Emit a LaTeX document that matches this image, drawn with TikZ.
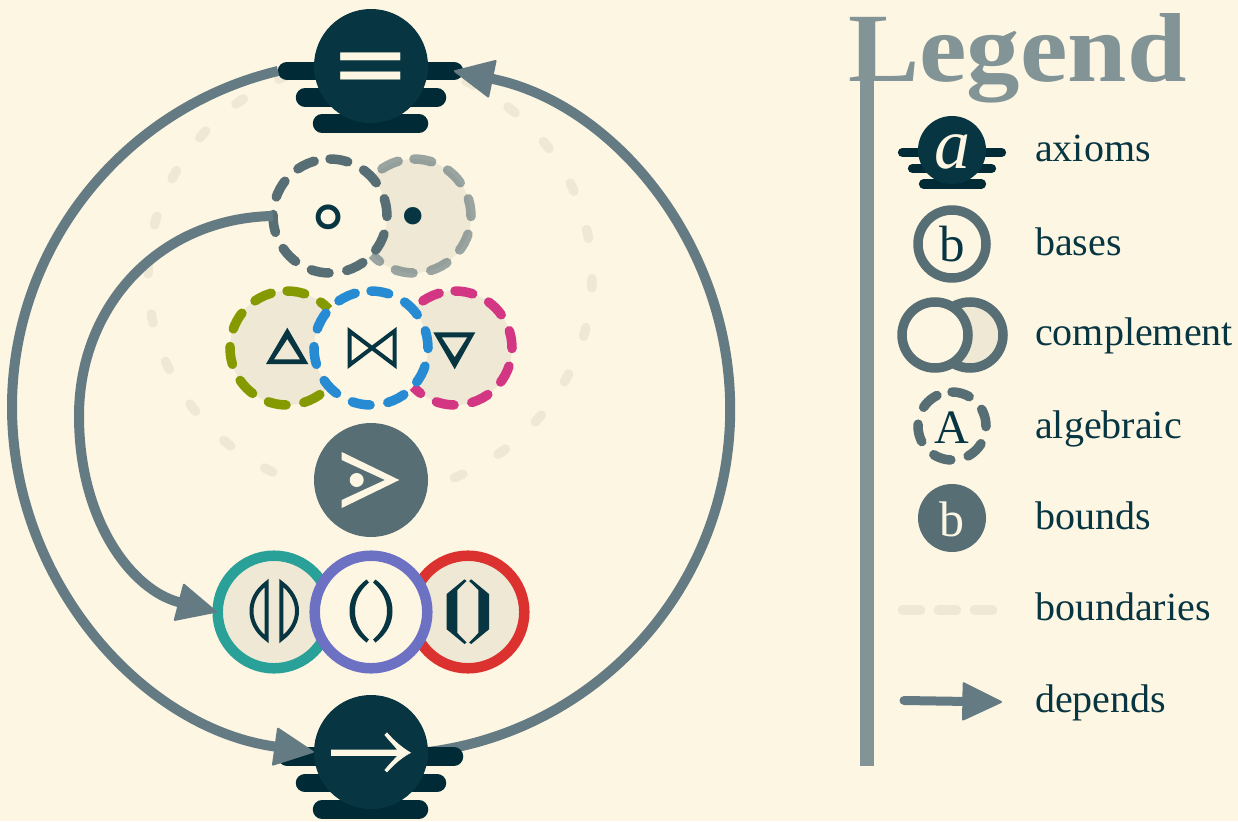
\documentclass[tikz,border=0pt]{standalone}
\usepackage{fontspec}
\usepackage{xcolor}
\usepackage{tikz}
\usetikzlibrary{arrows.meta}
\setmainfont{Liberation Serif}
\newfontfamily\symfont{DejaVu Sans}
\newfontfamily\headfont[FakeStretch=1.09]{Liberation Serif}
\definecolor{bgcream}{HTML}{FDF6E3}
\definecolor{fillcream}{HTML}{EEE8D5}
\definecolor{inkbar}{HTML}{002B36}
\definecolor{inkdark}{HTML}{073642}
\definecolor{slate}{HTML}{586E75}
\definecolor{arrowgrey}{HTML}{657B83}
\definecolor{headgrey}{HTML}{839496}
\definecolor{olive}{HTML}{859900}
\definecolor{teal}{HTML}{2AA198}
\definecolor{redring}{HTML}{DC322F}
\definecolor{pinkring}{HTML}{D33682}
\definecolor{violetring}{HTML}{6C71C4}
\definecolor{bluering}{HTML}{268BD2}
\tikzset{
  disc/.style={circle,inner sep=0pt,minimum size=#1},
  disc/.default=114pt,
  axbar/.style={inkbar,line width=18.5pt,line cap=round},
  axbarsmall/.style={inkbar,line width=9.3pt,line cap=round},
  ringdash/.style={line width=9.5pt,line cap=round,dash pattern=on 18pt off 18pt},
  ringline/.style={line width=9.5pt},
  stackring/.style={line width=10.5pt},
  bounddash/.style={fillcream,line width=9.5pt,line cap=round,dash pattern=on 9pt off 40.5pt},
  depend/.style={arrowgrey,line width=10pt,-{Triangle[length=41pt,width=39pt,round,line width=2pt]}},
  itemtext/.style={anchor=base west,inner sep=0pt,text=inkdark,font=\fontsize{40}{40}\selectfont},
  letter/.style={anchor=base,inner sep=0pt,font=\fontsize{#1}{#1}\selectfont},
  symb/.style={anchor=base,inner sep=0pt,text=inkdark,font=\symfont\fontsize{#1}{#1}\selectfont},
}
\newcommand{\dashring}[3][57]{\draw[ringdash,#3] (#2) ++(0,-#1) arc (-90:270:#1);}
\begin{document}
\begin{tikzpicture}[x=1pt,y=-1pt]
\useasboundingbox (0,0) rectangle (1238,821);
\fill[bgcream] (0,0) rectangle (1238,821);

\draw[bounddash] (370,60) arc (-90:90:222 and 217);
\draw[bounddash] (272.7,472) arc (116:270:222 and 217);

\draw[axbar] (287,71) -- (454,71);
\draw[axbar] (305,97.5) -- (437,97.5);
\draw[axbar] (322,123.5) -- (419,123.5);
\node[disc,fill=inkdark] (eq) at (371,66) {};
\node[symb=96,text=bgcream] (eqsym) at (371,96.7) {=};
\coordinate (eqleft) at (278,71);
\coordinate (eqright) at (454,71);
\coordinate (impright) at (428,752);

\draw[depend] (impright) .. controls (600.7,730.1) and (730.2,583.4) .. (730.2,409.3) .. controls (730.2,245.2) and (614.8,104) .. (eqright);

\draw[axbar] (287,756.5) -- (454,756.5);
\draw[axbar] (305,783) -- (437,783);
\draw[axbar] (322,809.5) -- (419,809.5);
\node[disc,fill=inkdark] (imp) at (371,752) {};
\filldraw[bgcream,line width=0.8pt] (331.4,750) -- (398,750) .. controls (393,744) and (389,740) .. (385,735) -- (387,733) .. controls (394,741) and (402,748) .. (410.3,752.7) .. controls (402,757) and (394,764) .. (387,771.7) -- (385,770) .. controls (389,765) and (393,761) .. (398,755.5) -- (331.4,755.5) -- cycle;

\draw[depend] (eqleft) .. controls (122.8,108.2) and (12,247.4) .. (12,407) .. controls (12,581.1) and (142.2,728) .. (imp.west);

\node[disc,fill=fillcream] (neg) at (414,216) {};
\dashring{neg}{slate,draw opacity=0.6}
\node[symb=60] (negsym) at (413.5,238.5) {•};
\node[disc,fill=bgcream] (alg) at (330,216) {};
\dashring{alg}{slate}
\node[symb=80] (algsym) at (328.7,242) {∘};

\node[disc,fill=fillcream] (up) at (287,348) {};
\dashring{up}{olive}
\fill[inkdark,even odd rule] (287.3,327.7) -- (266,364) -- (308.3,364) -- cycle (287.3,339) -- (274,359.3) -- (300,359.3) -- cycle;
\node[disc,fill=fillcream] (down) at (455,348) {};
\dashring{down}{pinkring}
\fill[inkdark,even odd rule] (433.3,332.3) -- (475.3,332.3) -- (454.7,369.3) -- cycle (441.7,337.3) -- (467.3,337.3) -- (454.7,357.3) -- cycle;
\node[disc,fill=bgcream] (join) at (371,348) {};
\dashring{join}{bluering}
\draw[inkdark,line width=4pt] (349.5,331) -- (349.5,365) -- (394.5,331) -- (394.5,365) -- cycle;

\node[disc,fill=slate] (bound) at (371,480) {};
\fill[bgcream] (341.7,452) -- (399.3,480) -- (341.7,508) -- (341.7,500) -- (385,480) -- (341.7,460) -- cycle;
\fill[bgcream] (356.7,480) circle (7);

\node[disc,fill=fillcream] (stackl) at (274,612) {};
\draw[stackring,teal] (stackl) circle (56.3);
\node[disc,fill=fillcream] (stackr) at (468,612) {};
\draw[stackring,redring] (stackr) circle (56.3);
\node[disc,fill=bgcream] (stackm) at (371,612) {};
\draw[stackring,violetring] (stackm) circle (56.3);

\draw[inkdark,line width=4pt] (266.7,583) .. controls (256,591) and (251.5,601) .. (251.5,611) .. controls (251.5,621) and (256,631) .. (266.7,639) -- cycle;
\draw[inkdark,line width=4pt] (281.3,583) .. controls (292,591) and (297,601) .. (297,611) .. controls (297,621) and (292,631) .. (281.3,639) -- cycle;
\fill[inkdark] (366.5,579.5) .. controls (354,589) and (349.5,600) .. (349.5,611) .. controls (349.5,622) and (354,633) .. (366.5,642.5) -- (369,639.5) .. controls (359,631) and (355,621) .. (355,611) .. controls (355,601) and (359,591) .. (369,582.5) -- cycle;
\fill[inkdark] (375.5,579.5) .. controls (388,589) and (392.5,600) .. (392.5,611) .. controls (392.5,622) and (388,633) .. (375.5,642.5) -- (373,639.5) .. controls (383,631) and (387,621) .. (387,611) .. controls (387,601) and (383,591) .. (373,582.5) -- cycle;
\fill[inkdark] (446.7,594) -- (464.5,579.3) -- (466.5,581) -- (457.3,590) -- (457.3,633) -- (466.5,642.5) -- (464.5,644) -- (446.7,629.3) -- cycle;
\fill[inkdark] (489,594) -- (471.2,579.3) -- (469.2,581) -- (478.4,590) -- (478.4,633) -- (469.2,642.5) -- (471.2,644) -- (489,629.3) -- cycle;

\draw[depend] (alg.west) .. controls (161,218) and (79,304) .. (79,416) .. controls (79,521) and (132,590) .. (stackl.west);

\draw[headgrey,line width=14pt] (867,40) -- (867,766);
\node[anchor=base west,inner sep=0pt,text=headgrey,font=\headfont\bfseries\fontsize{98}{98}\selectfont] (legend) at (848,81.5) {Legend};

\draw[axbarsmall] (902.5,152.5) -- (1001.5,152.5);
\draw[axbarsmall] (912.5,168.5) -- (991.5,168.5);
\draw[axbarsmall] (923.5,184) -- (981.5,184);
\node[disc=68pt,fill=inkdark] (keyaxiom) at (952,150) {};
\node[letter=72,text=bgcream,font=\itshape\fontsize{72}{72}\selectfont] (keyaxiomsym) at (952,168) {a};
\node[itemtext] (keyaxiomtext) at (1035,161.5) {axioms};

\node[disc=68pt,fill=bgcream] (keybase) at (952,244) {};
\draw[ringline,slate] (keybase) circle (34);
\node[letter=51,text=inkdark] (keybasesym) at (952,261.7) {b};
\node[itemtext] (keybasetext) at (1035,255) {bases};

\node[disc=66pt,fill=fillcream] (keycompr) at (970,335) {};
\draw[ringline,slate] (keycompr) circle (33);
\node[disc=66pt,fill=bgcream] (keycompl) at (935,335) {};
\draw[ringline,slate] (keycompl) circle (33);
\node[itemtext] (keycomptext) at (1035,345.5) {complement};

\node[disc=68pt,fill=bgcream] (keyalg) at (952,426) {};
\dashring[34]{keyalg}{slate}
\node[letter=48,text=inkdark] (keyalgsym) at (952,443.5) {A};
\node[itemtext] (keyalgtext) at (1035,438.5) {algebraic};

\node[disc=68pt,fill=slate] (keybound) at (952,518) {};
\node[letter=50,text=bgcream] (keyboundsym) at (952,536) {b};
\node[itemtext] (keyboundtext) at (1035,529) {bounds};

\coordinate (keydashl) at (902.5,610);
\coordinate (keydashr) at (993.5,610);
\draw[ringdash,fillcream] (keydashl) -- (keydashr);
\node[itemtext] (keydashtext) at (1035,620) {boundaries};

\coordinate (keyarrowl) at (904,700.5);
\coordinate (keyarrowr) at (1002,702);
\draw[depend,line width=9pt,line cap=round] (keyarrowl) -- (keyarrowr);
\node[itemtext] (keyarrowtext) at (1035,712) {depends};
\end{tikzpicture}
\end{document}
